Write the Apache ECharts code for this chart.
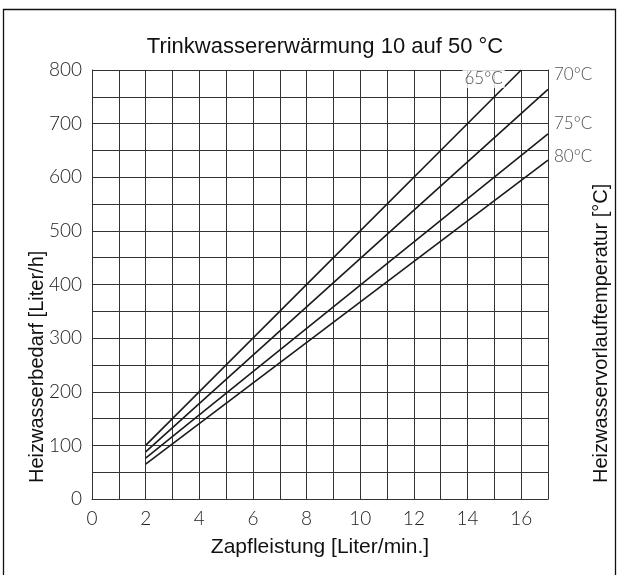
<!DOCTYPE html>
<html><head><meta charset="utf-8">
<script src="https://cdn.jsdelivr.net/npm/echarts@6/dist/echarts.min.js"></script>
<style>html,body{margin:0;padding:0;background:#fff}#c{width:618px;height:575px}</style>
</head><body><div id="c"></div>
<script>
const titleText = 'Trinkwassererwärmung 10 auf 50 °C';
const xName = 'Zapfleistung [Liter/min.]';
const yName = 'Heizwasserbedarf [Liter/h]';
const y2Name = 'Heizwasservorlauftemperatur [°C]';
const line65 = [[2, 100], [16, 800]];
const line70 = [[2, 88], [17, 764]];
const line75 = [[2, 76], [17, 681]];
const line80 = [[2, 65], [17, 632]];
const insideLabel = [[14.6, 784, '65°C']];
const outsideLabels = [[17, 792, '70°C'], [17, 700, '75°C'], [17, 638, '80°C']];

const thin = {fontFamily: 'Lato', fontWeight: 300, color: '#222'};
const sans = 'Liberation Sans, Arial, sans-serif';
const chart = echarts.init(document.getElementById('c'));
const lineStyle = {color: '#1a1a1a', width: 1.6};
chart.setOption({
  animation: false,
  title: {text: titleText, left: 320, textAlign: 'center', top: 31,
    textStyle: {fontFamily: sans, fontWeight: 'normal', fontSize: 22, color: '#111'}},
  grid: {left: 92, right: 70, top: 70, bottom: 76},
  xAxis: {type: 'value', min: 0, max: 17, interval: 1,
    name: xName, nameLocation: 'middle', nameGap: 38,
    nameTextStyle: {fontFamily: sans, fontSize: 21, color: '#111'},
    axisLine: {show: true, lineStyle: {color: '#333'}}, axisTick: {show: false},
    axisLabel: Object.assign({fontSize: 19, margin: 10, formatter: v => v % 2 === 0 ? String(v) : ''}, thin),
    splitLine: {show: true, lineStyle: {color: '#333', width: 1}}},
  yAxis: [{type: 'value', min: 0, max: 800, interval: 50,
    axisLine: {show: true, lineStyle: {color: '#333'}}, axisTick: {show: false},
    axisLabel: Object.assign({fontSize: 19, margin: 10, formatter: v => v % 100 === 0 ? String(v) : ''}, thin),
    splitLine: {show: true, lineStyle: {color: '#333', width: 1}}},
    {type: 'value', min: 0, max: 800, position: 'right',
    axisLine: {show: true, lineStyle: {color: '#333'}}, axisTick: {show: false}, axisLabel: {show: false}, splitLine: {show: false}}],
  series: [
    {type: 'line', data: line65, symbol: 'none', lineStyle},
    {type: 'line', data: line70, symbol: 'none', lineStyle},
    {type: 'line', data: line75, symbol: 'none', lineStyle},
    {type: 'line', data: line80, symbol: 'none', lineStyle},
    {type: 'scatter', data: insideLabel, symbolSize: 0, z: 5,
      label: Object.assign({show: true, position: 'inside', formatter: p => p.data[2], fontSize: 17,
        backgroundColor: '#fff', padding: [1, 2]}, thin)},
    {type: 'scatter', data: outsideLabels, symbolSize: 0, clip: false,
      label: Object.assign({show: true, position: 'right', distance: 6, formatter: p => p.data[2], fontSize: 17}, thin)}
  ],
  graphic: [
    {type: 'rect', shape: {x: 3.5, y: 9.5, width: 612, height: 580},
      style: {fill: 'none', stroke: '#111', lineWidth: 1.3}, silent: true},
    {type: 'text', x: 37, y: 483, rotation: Math.PI / 2,
      style: {text: yName, font: '20px ' + sans, fill: '#111', textAlign: 'left', textVerticalAlign: 'middle'}},
    {type: 'text', x: 601, y: 483, rotation: Math.PI / 2,
      style: {text: y2Name, font: '20px ' + sans, fill: '#111', textAlign: 'left', textVerticalAlign: 'middle'}}
  ]
});
</script></body></html>
